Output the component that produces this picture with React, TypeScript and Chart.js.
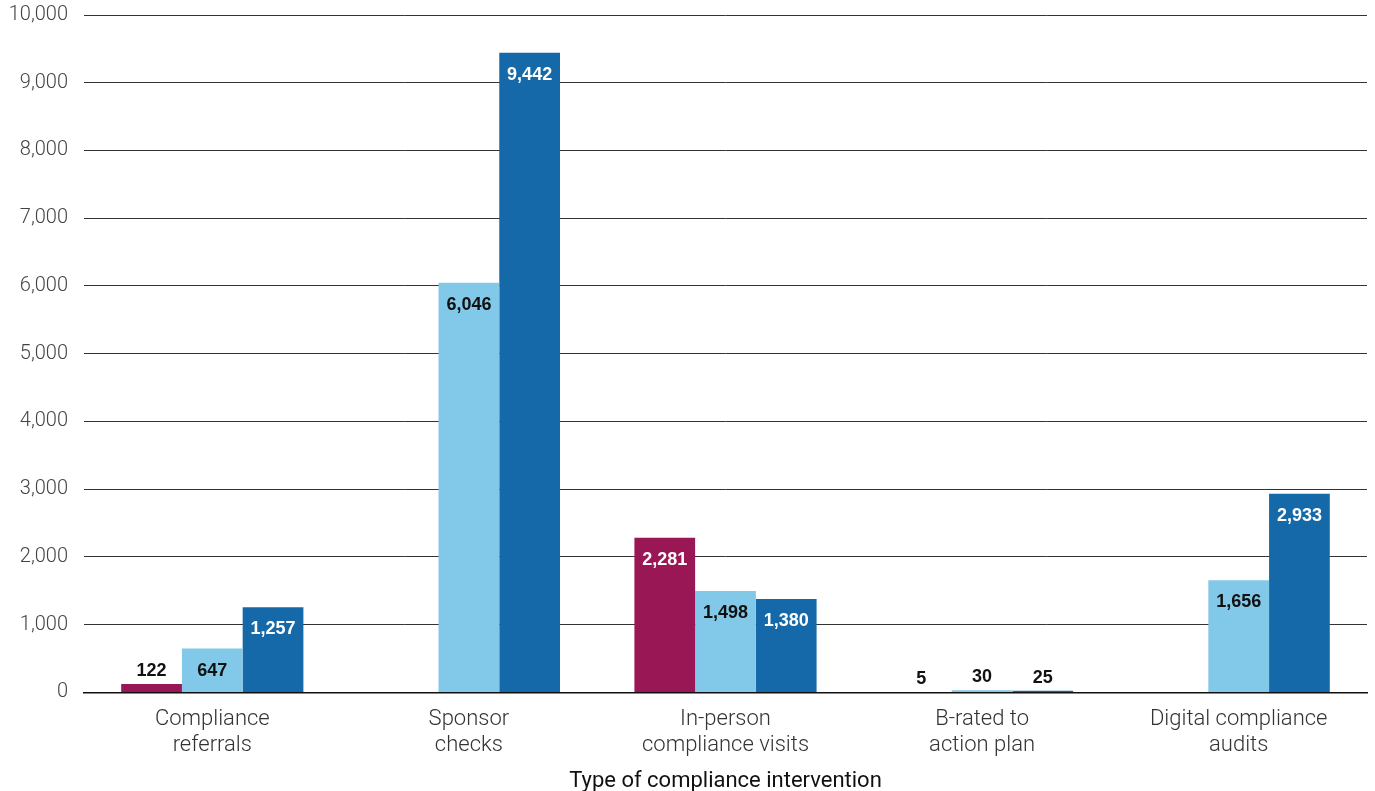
import React, { useEffect, useRef } from "react";
import { Chart, registerables } from "chart.js";

Chart.register(...registerables);

const categories: string[][] = [
  ["Compliance", "referrals"],
  ["Sponsor", "checks"],
  ["In-person", "compliance visits"],
  ["B-rated to", "action plan"],
  ["Digital compliance", "audits"],
];
const seriesA: (number | null)[] = [122, null, 2281, 5, null];
const seriesB: (number | null)[] = [647, 6046, 1498, 30, 1656];
const seriesC: (number | null)[] = [1257, 9442, 1380, 25, 2933];
const seriesNames = ["Series A", "Series B", "Series C"];
const colors = ["#9A1756", "#82C8E8", "#1569A8"];
const insideLabelColors = ["#ffffff", "#111111", "#ffffff"];
const yTicks = [0, 1000, 2000, 3000, 4000, 5000, 6000, 7000, 8000, 9000, 10000];
const xTitle = "Type of compliance intervention";

const labelPlugin = {
  id: "barLabels",
  afterDatasetsDraw(chart: any) {
    const ctx = chart.ctx;
    ctx.save();
    ctx.font = "bold 18px 'Liberation Sans', Arial, sans-serif";
    ctx.textAlign = "center";
    chart.data.datasets.forEach((ds: any, di: number) => {
      const meta = chart.getDatasetMeta(di);
      meta.data.forEach((bar: any, i: number) => {
        const v = ds.data[i];
        if (v === null || v === undefined) return;
        const text = v.toLocaleString("en-US");
        const h = bar.base - bar.y;
        if (h > 30) {
          ctx.fillStyle = insideLabelColors[di];
          ctx.textBaseline = "middle";
          ctx.fillText(text, bar.x, bar.y + 22);
        } else {
          ctx.fillStyle = "#111111";
          ctx.textBaseline = "bottom";
          ctx.fillText(text, bar.x, bar.y - 4);
        }
      });
    });
    ctx.restore();
  },
};

export default function App() {
  const ref = useRef<HTMLCanvasElement>(null);
  useEffect(() => {
    document.body.style.margin = "0";
    const chart = new Chart(ref.current!, {
      type: "bar",
      data: {
        labels: categories,
        datasets: [seriesA, seriesB, seriesC].map((d, i) => ({
          label: seriesNames[i],
          data: d,
          backgroundColor: colors[i],
          borderWidth: 0,
          categoryPercentage: 0.71,
          barPercentage: 1,
        })),
      },
      options: {
        animation: false,
        responsive: false,
        maintainAspectRatio: false,
        layout: { padding: { top: 0, right: 8, left: 0, bottom: 0 } },
        plugins: {
          legend: { display: false },
          tooltip: { enabled: false },
        },
        scales: {
          x: {
            grid: { display: false, drawTicks: false },
            border: { display: true, color: "#111111", width: 1.5 },
            ticks: {
              color: "#333333",
              font: { family: "Roboto, 'Liberation Sans', sans-serif", size: 22, weight: 300 as any, lineHeight: 1.18 },
              padding: 14,
              maxRotation: 0,
            },
            title: {
              display: true,
              text: xTitle,
              color: "#111111",
              font: { family: "Roboto, 'Liberation Sans', sans-serif", size: 22, weight: 400 as any, lineHeight: 0.85 },
              padding: { top: 0, bottom: 0 },
            },
          },
          y: {
            min: 0,
            max: 10000,
            afterBuildTicks(scale: any) {
              scale.ticks = yTicks.map((v) => ({ value: v }));
            },
            afterFit(scale: any) {
              scale.width = 84;
              scale.paddingTop = 15;
            },
            grid: { color: "#333333", lineWidth: 1, drawTicks: false },
            border: { display: false },
            ticks: {
              color: "#444444",
              font: { family: "Roboto, 'Liberation Sans', sans-serif", size: 20, weight: 300 as any },
              padding: 16,
              callback: (v: any) => Number(v).toLocaleString("en-US"),
            },
          },
        },
      },
      plugins: [labelPlugin],
    });
    return () => chart.destroy();
  }, []);
  return (
    <div style={{ width: 1375, height: 791 }}>
      <canvas ref={ref} width={1375} height={791} style={{ display: "block" }} />
    </div>
  );
}
